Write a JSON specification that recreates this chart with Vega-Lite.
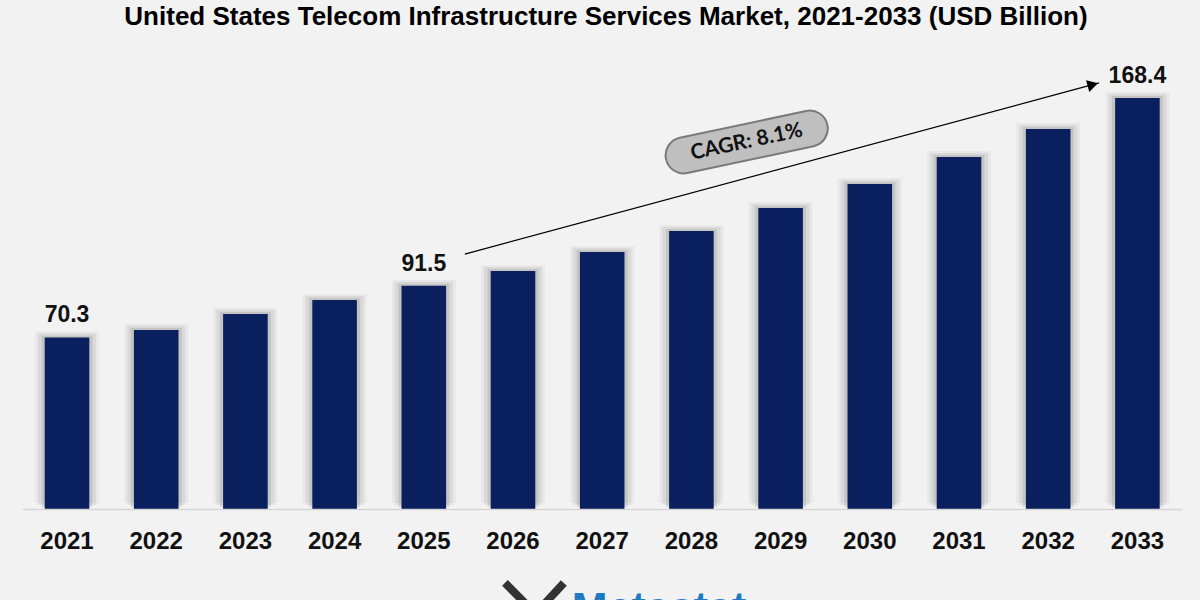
{
  "$schema": "https://vega.github.io/schema/vega-lite/v6.json",
  "width": 1200,
  "height": 509,
  "autosize": {"type": "none"},
  "padding": {"left": 0, "top": 0, "right": 0, "bottom": 91},
  "background": "#f2f2f2",
  "config": {
    "view": {"stroke": null},
    "font": "Liberation Sans"
  },
  "title": {
    "text": "United States Telecom Infrastructure Services Market, 2021-2033 (USD Billion)",
    "fontSize": 26,
    "fontWeight": "bold",
    "font": "Liberation Sans",
    "color": "#000000",
    "anchor": "middle",
    "frame": "group",
    "baseline": "alphabetic",
    "offset": -51,
    "dx": 6
  },
  "datasets": {
    "market": [
      {"year": "2021", "value": 70.3},
      {"year": "2022", "value": 73.4},
      {"year": "2023", "value": 79.9},
      {"year": "2024", "value": 85.7},
      {"year": "2025", "value": 91.5},
      {"year": "2026", "value": 97.5},
      {"year": "2027", "value": 105.3},
      {"year": "2028", "value": 113.9},
      {"year": "2029", "value": 123.4},
      {"year": "2030", "value": 133.2},
      {"year": "2031", "value": 144.3},
      {"year": "2032", "value": 155.7},
      {"year": "2033", "value": 168.4}
    ],
    "arrow": [{"x0": 2025.46, "v0": 104.5, "x1": 2032.57, "v1": 174.6}],
    "arrowhead": [{"pos": 2032.5, "v": 173.9}],
    "cagr": [{"pos": 2028.62, "v": 150.4, "label": "CAGR: 8.1%"}],
    "brand": [{"pos": 2026.66, "v": -46.3, "label": "Metastat"}],
    "brandmark": [
      {"x0": 2025.91, "v0": -30.3, "x1": 2026.19, "v1": -40.6},
      {"x0": 2026.57, "v0": -30.3, "x1": 2026.31, "v1": -40.6}
    ]
  },
  "layer": [
    {
      "data": {"name": "market"},
      "encoding": {
        "x": {
          "field": "year",
          "type": "ordinal",
          "sort": null,
          "scale": {"range": [22.4, 1182], "paddingInner": 0.5, "paddingOuter": 0.25},
          "axis": {
            "title": null,
            "ticks": false,
            "labelAngle": 0,
            "labelFontSize": 24,
            "labelFontWeight": "bold",
            "labelFont": "Liberation Sans",
            "labelColor": "#111111",
            "labelPadding": 20,
            "domainColor": "#d6d6d6",
            "domainWidth": 1.5,
            "zindex": 1
          }
        },
        "y": {
          "field": "value",
          "type": "quantitative",
          "scale": {"domain": [0, 208.6], "nice": false, "zero": true},
          "axis": null
        }
      },
      "layer": [
        {"mark": {"type": "bar", "size": 64, "color": "#555555", "opacity": 0.06, "yOffset": -6}},
        {"mark": {"type": "bar", "size": 58, "color": "#555555", "opacity": 0.1, "yOffset": -4}},
        {"mark": {"type": "bar", "size": 51, "color": "#555555", "opacity": 0.16, "yOffset": -2}},
        {"mark": {"type": "bar", "color": "#0a205e"}},
        {
          "transform": [{"filter": "indexof(['2021','2025','2033'], datum.year) >= 0"}],
          "mark": {
            "type": "text",
            "baseline": "alphabetic",
            "align": "center",
            "dy": -15,
            "fontSize": 23,
            "fontWeight": "bold",
            "font": "Liberation Sans",
            "color": "#111111"
          },
          "encoding": {"text": {"field": "value", "type": "quantitative", "format": ".1f"}}
        }
      ]
    },
    {
      "layer": [
        {
          "data": {"name": "arrow"},
          "mark": {"type": "rule", "color": "#000000", "strokeWidth": 1.3},
          "encoding": {
            "x": {"field": "x0", "type": "quantitative", "scale": {"domain": [2020.5, 2033.5], "range": [22.4, 1182], "nice": false, "zero": false}, "axis": null},
            "x2": {"field": "x1"},
            "y": {"field": "v0", "type": "quantitative", "scale": {"domain": [0, 208.6], "nice": false}, "axis": null},
            "y2": {"field": "v1"}
          }
        },
        {
          "data": {"name": "arrowhead"},
          "mark": {"type": "point", "shape": "triangle-right", "filled": true, "color": "#000000", "size": 150, "angle": 345, "opacity": 1},
          "encoding": {
            "x": {"field": "pos", "type": "quantitative", "scale": {"domain": [2020.5, 2033.5], "range": [22.4, 1182], "nice": false, "zero": false}, "axis": null},
            "y": {"field": "v", "type": "quantitative", "scale": {"domain": [0, 208.6], "nice": false}, "axis": null}
          }
        },
        {
          "data": {"name": "cagr"},
          "mark": {
            "type": "point",
            "shape": "M -0.782 -0.218 L 0.782 -0.218 A 0.218 0.218 0 0 1 0.782 0.218 L -0.782 0.218 A 0.218 0.218 0 0 1 -0.782 -0.218 Z",
            "filled": true,
            "fill": "#bfbfbf",
            "stroke": "#7a7a7a",
            "strokeWidth": 2,
            "size": 27225,
            "angle": 348,
            "opacity": 1
          },
          "encoding": {
            "x": {"field": "pos", "type": "quantitative", "scale": {"domain": [2020.5, 2033.5], "range": [22.4, 1182], "nice": false, "zero": false}, "axis": null},
            "y": {"field": "v", "type": "quantitative", "scale": {"domain": [0, 208.6], "nice": false}, "axis": null}
          }
        },
        {
          "data": {"name": "cagr"},
          "mark": {"type": "text", "font": "Lato", "fontSize": 21, "fontWeight": "bold", "color": "#111111", "angle": 348, "align": "center", "baseline": "middle"},
          "encoding": {
            "x": {"field": "pos", "type": "quantitative", "scale": {"domain": [2020.5, 2033.5], "range": [22.4, 1182], "nice": false, "zero": false}, "axis": null},
            "y": {"field": "v", "type": "quantitative", "scale": {"domain": [0, 208.6], "nice": false}, "axis": null},
            "text": {"field": "label"}
          }
        },
        {
          "data": {"name": "brandmark"},
          "mark": {"type": "rule", "color": "#333333", "strokeWidth": 8},
          "encoding": {
            "x": {"field": "x0", "type": "quantitative", "scale": {"domain": [2020.5, 2033.5], "range": [22.4, 1182], "nice": false, "zero": false}, "axis": null},
            "x2": {"field": "x1"},
            "y": {"field": "v0", "type": "quantitative", "scale": {"domain": [0, 208.6], "nice": false}, "axis": null},
            "y2": {"field": "v1"}
          }
        },
        {
          "data": {"name": "brand"},
          "mark": {"type": "text", "font": "Liberation Sans", "fontSize": 43, "fontWeight": "bold", "color": "#1f7ac4", "align": "left", "baseline": "alphabetic"},
          "encoding": {
            "x": {"field": "pos", "type": "quantitative", "scale": {"domain": [2020.5, 2033.5], "range": [22.4, 1182], "nice": false, "zero": false}, "axis": null},
            "y": {"field": "v", "type": "quantitative", "scale": {"domain": [0, 208.6], "nice": false}, "axis": null},
            "text": {"field": "label"}
          }
        }
      ]
    }
  ],
  "resolve": {"scale": {"x": "independent"}}
}
